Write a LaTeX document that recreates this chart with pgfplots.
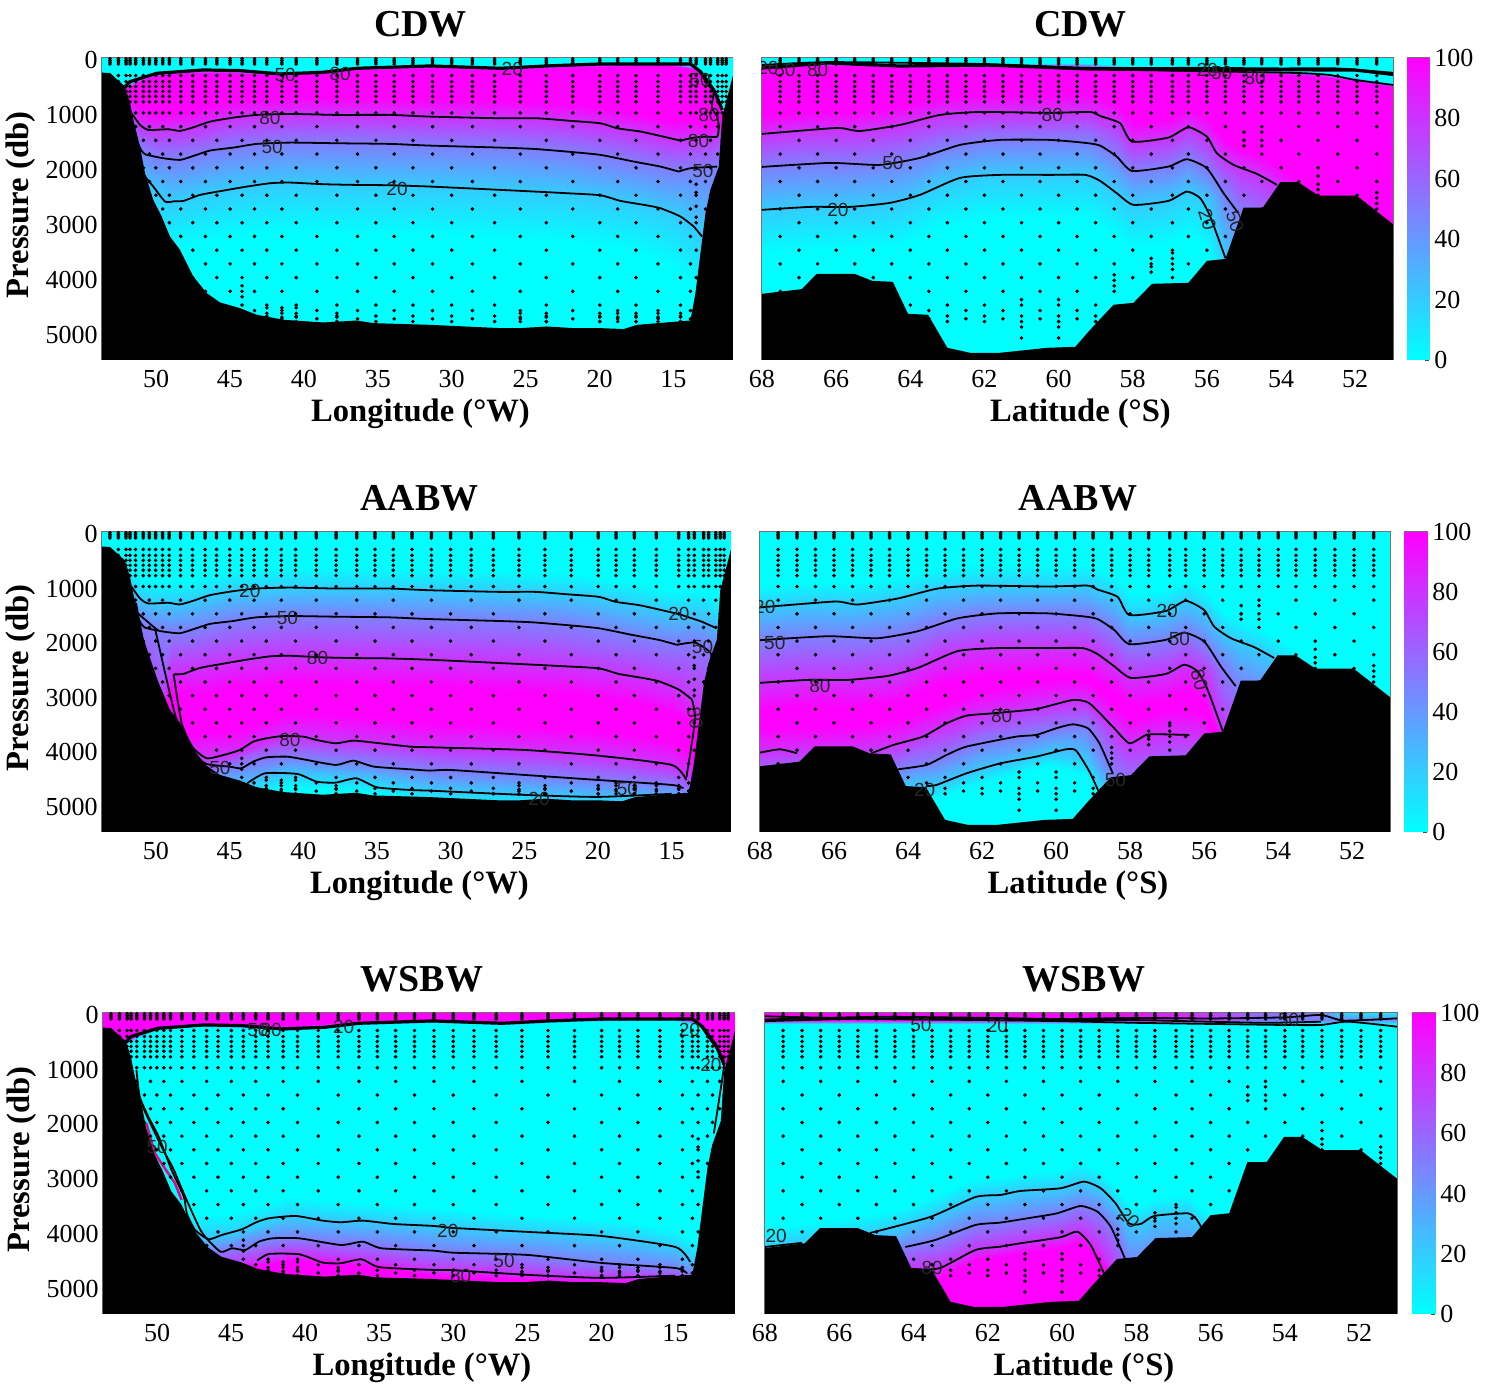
\documentclass[border=0pt]{standalone}
\usepackage{fontspec}
\usepackage{pgfplots}
\pgfplotsset{compat=1.18}
\setmainfont{Liberation Serif}
\newfontfamily\clabf{Liberation Sans}
\newcommand\pl[2]{\edef\tmp{\noexpand\addplot[#1] coordinates {#2};}\tmp}
\newcommand\col[2]{\foreach \y[count=\i] in {#2}{\xdef\mm{\mm(#1,\y)[\zz{\i}]}}}
% ---- meshes: per longitude/latitude, pressure of each level
\def\zz#1{\ifcase#1\or 0\or 0\or 100\or 100\or 80\or 50\or 20\or 0\or 0\fi}
\gdef\mm{}
\col{53.66}{0,560,640,700,1000,1400,2000,2900,5500}
\col{52.1}{0,480,560,620,950,1300,2000,2900,5500}
\col{51}{0,340,420,900,1230,1660,2250,3150,5500}
\col{50}{0,240,320,980,1310,1800,2450,3350,5500}
\col{49}{0,215,295,970,1300,1830,2610,3500,5500}
\col{47.5}{0,185,265,935,1265,1790,2495,3400,5500}
\col{45}{0,190,270,765,1095,1640,2370,3270,5500}
\col{41}{0,240,320,690,1020,1541,2270,3170,5500}
\col{36}{0,145,225,705,1037,1560,2315,3215,5500}
\col{31}{0,105,185,740,1070,1600,2345,3245,5500}
\col{26}{0,140,220,770,1100,1635,2410,3310,5500}
\col{22}{0,80,160,815,1145,1710,2470,3370,5500}
\col{18}{0,70,150,970,1300,1900,2630,3500,5500}
\col{15}{0,70,150,1140,1470,2040,2830,3800,5500}
\col{13.5}{0,140,220,1120,1450,2000,3100,4200,5500}
\col{12.5}{0,430,510,1200,1432,1980,3400,4400,5500}
\col{11.7}{0,900,1000,1150,1300,1970,3400,4400,5500}
\col{10.97}{0,900,1000,1150,1300,1970,3400,4400,5500}
\global\let\mA\mm
\gdef\mm{}
\col{68}{0,80,160,1030,1383,1984,2766,3560,5500}
\col{66.7}{0,70,150,960,1310,1930,2712,3510,5500}
\col{65.5}{0,60,140,970,1320,1950,2700,3500,5500}
\col{64.3}{0,90,170,870,1220,1850,2640,3440,5500}
\col{63.2}{0,100,180,690,1037,1640,2300,3100,5500}
\col{62}{0,90,170,630,983,1510,2150,2950,5500}
\col{60.2}{0,90,170,650,1000,1492,2129,2930,5500}
\col{59.2}{0,100,180,640,990,1500,2130,2930,5500}
\col{58.4}{0,130,210,840,1190,1800,2463,3260,5500}
\col{58}{0,150,230,1170,1523,2050,2675,3470,5500}
\col{57.04}{0,160,240,1100,1450,1978,2603,3400,5500}
\col{56.5}{0,170,250,910,1262,1844,2433,3230,5500}
\col{56}{0,170,250,1080,1432,2060,2600,3500,5500}
\col{55.5}{0,180,260,1480,1830,2463,3646,4300,5500}
\col{55.1}{0,190,270,1640,1990,2827,3900,4500,5500}
\col{54.6}{0,210,290,1770,2120,3000,4200,4800,5500}
\col{54.1}{0,220,300,1960,2311,3100,4300,4800,5500}
\col{53}{0,250,330,2450,2800,3400,4500,5000,5500}
\col{52}{0,340,420,2950,3300,3800,4700,5100,5500}
\col{50.98}{0,450,530,3150,3500,4000,4700,5100,5500}
\global\let\mB\mm
\def\zz#1{\ifcase#1\or 0\or 0\or 20\or 50\or 80\or 100\or 100\or 80\or 50\or 20\or 0\or 0\fi}
\gdef\mm{}
\col{53.66}{0,600,1000,1400,2000,2400,4000,4300,4600,4800,5000,5500}
\col{52.1}{0,550,950,1300,2000,2400,4000,4300,4600,4800,5000,5500}
\col{51}{0,830,1230,1660,2800,3200,3700,4100,4500,4800,5000,5500}
\col{50}{0,900,1300,1770,3400,3700,3900,4200,4500,4800,5000,5500}
\col{49}{0,900,1300,1830,2550,2950,3650,4100,4500,4800,5000,5500}
\col{47.5}{0,860,1265,1790,2495,3000,3700,4100,4500,4800,5000,5500}
\col{45}{0,700,1095,1640,2370,2870,3640,4090,4300,4700,4950,5500}
\col{41}{0,620,1020,1541,2270,2770,3300,3745,4120,4440,4690,5500}
\col{36}{0,640,1037,1560,2315,2815,3380,3830,4210,4530,4780,5500}
\col{31}{0,670,1070,1600,2345,2845,3500,3950,4380,4745,5000,5500}
\col{26}{0,700,1100,1635,2410,2910,3540,3990,4440,4800,5050,5500}
\col{22}{0,745,1145,1710,2470,2970,3610,4060,4510,4850,5100,5500}
\col{18}{0,900,1300,1900,2630,3130,3690,4140,4580,4900,5150,5500}
\col{15}{0,1070,1470,2040,2830,3330,3840,4290,4640,4900,5150,5500}
\col{13.5}{0,1050,1450,2000,3100,3500,4050,4500,4800,5000,5200,5500}
\col{12.5}{0,1100,1500,2050,3400,3700,4100,4500,4800,5000,5200,5500}
\col{11.7}{0,1300,1700,2200,3400,3700,4100,4500,4800,5000,5200,5500}
\col{10.97}{0,1300,1700,2200,3400,3700,4100,4500,4800,5000,5200,5500}
\global\let\mC\mm
\gdef\mm{}
\col{68}{0,980,1383,1984,2766,3270,3600,4045,4500,4800,5000,5500}
\col{66.7}{0,910,1310,1930,2712,3210,3550,4000,4500,4800,5000,5500}
\col{65.5}{0,920,1320,1950,2700,3200,3550,4000,4500,4800,5000,5500}
\col{64.3}{0,820,1220,1850,2640,3140,3440,3890,4340,4700,4950,5500}
\col{63.2}{0,640,1037,1640,2300,2800,3170,3620,4180,4640,4890,5500}
\col{62}{0,580,983,1510,2150,2650,2900,3350,3870,4370,4620,5500}
\col{60.2}{0,600,1000,1492,2129,2630,2710,3160,3650,4050,4300,5500}
\col{59.2}{0,590,990,1500,2130,2620,2680,3120,3550,4200,4500,5500}
\col{58.4}{0,790,1190,1800,2463,2960,3170,3620,4500,5000,5200,5500}
\col{58}{0,1120,1523,2050,2675,3170,3420,3870,4700,5100,5300,5500}
\col{57.04}{0,1050,1450,1978,2603,3100,3270,3720,4500,5000,5200,5500}
\col{56.5}{0,860,1262,1844,2433,2930,3270,3720,4500,5000,5200,5500}
\col{56}{0,1030,1432,2060,2600,3100,3300,3750,4500,5000,5200,5500}
\col{55.5}{0,1430,1830,2463,3646,4000,4200,4500,4800,5000,5200,5500}
\col{55.1}{0,1590,1990,2827,3900,4200,4300,4500,4800,5000,5200,5500}
\col{54.6}{0,1720,2120,3000,4200,4300,4400,4500,4800,5000,5200,5500}
\col{54.1}{0,1910,2311,3100,4300,4350,4400,4500,4800,5000,5200,5500}
\col{53}{0,2400,2800,3400,4300,4350,4400,4500,4800,5000,5200,5500}
\col{52}{0,3000,3300,3800,4300,4350,4400,4500,4800,5000,5200,5500}
\col{50.98}{0,3200,3500,4000,4300,4350,4400,4500,4800,5000,5200,5500}
\global\let\mD\mm
\def\zz#1{\ifcase#1\or 100\or 100\or 0\or 0\or 20\or 50\or 80\or 100\or 100\fi}
\gdef\mm{}
\col{53.66}{0,560,640,3000,4100,4400,4700,4820,5500}
\col{52.1}{0,480,560,3000,4100,4400,4700,4820,5500}
\col{51}{0,340,420,3300,4100,4400,4700,4820,5500}
\col{50}{0,240,320,3500,4100,4400,4700,4820,5500}
\col{49}{0,215,295,3600,4100,4400,4700,4820,5500}
\col{47.5}{0,185,265,3700,4100,4400,4700,4820,5500}
\col{45}{0,190,270,3650,4030,4300,4600,4720,5500}
\col{41}{0,240,320,3350,3720,4115,4410,4530,5500}
\col{36}{0,145,225,3450,3795,4180,4505,4625,5500}
\col{31}{0,105,185,3550,3895,4345,4700,4820,5500}
\col{26}{0,140,220,3650,3985,4400,4760,4880,5500}
\col{22}{0,80,160,3720,4045,4530,4820,4940,5500}
\col{18}{0,70,150,3800,4130,4600,4840,4960,5500}
\col{15}{0,70,150,3950,4275,4660,4870,4990,5500}
\col{13.5}{0,140,220,4200,4550,4800,5000,5100,5500}
\col{12.5}{0,430,510,4200,4550,4800,5000,5100,5500}
\col{11.7}{0,900,1000,4200,4550,4800,5000,5100,5500}
\col{10.97}{0,900,1000,4200,4550,4800,5000,5100,5500}
\global\let\mE\mm
\def\zz#1{\ifcase#1\or 0\or 0\or 20\or 50\or 80\or 100\or 100\fi}
\gdef\mm{}
\col{68}{0,3925,4275,4600,5000,5200,5500}
\col{66}{0,3750,4100,4500,5000,5200,5500}
\col{65.17}{0,3670,4020,4500,4900,5100,5500}
\col{64.2}{0,3530,3880,4275,4700,4900,5500}
\col{63.4}{0,3330,3680,4147,4660,4860,5500}
\col{62.33}{0,3010,3362,3873,4330,4530,5500}
\col{61.66}{0,2975,3325,3830,4269,4470,5500}
\col{61.1}{0,2900,3252,3760,4208,4410,5500}
\col{60.04}{0,2850,3203,3650,4098,4300,5500}
\col{59.5}{0,2730,3081,3526,4000,4200,5500}
\col{59}{0,2850,3203,3630,4300,4500,5500}
\col{58.6}{0,3130,3477,3904,4750,4950,5500}
\col{58.2}{0,3490,3843,4600,5000,5200,5500}
\col{57.88}{0,3500,3855,4600,5000,5200,5500}
\col{57.5}{0,3360,3709,4500,5000,5200,5500}
\col{56.6}{0,3310,3660,4500,5000,5200,5500}
\col{56.26}{0,3550,3904,4500,5000,5200,5500}
\col{55.5}{0,3900,4300,4700,5100,5200,5500}
\col{50.98}{0,3900,4300,4700,5100,5200,5500}
\global\let\mF\mm
% ---- sampling stations
\newcommand\addd[4]{\foreach \x in {#2}{\foreach \d in {#3}{\xdef#1{#1(\x,\d)}}}}
\gdef\dL{}\gdef\dR{}
\addd\dL{53.12,52.03,51.38,50.45,49.55,48.33,46.66,44.99,43.34,41.49,39.12,36.37,33.89,31.3,28.6,25.36,21.81,18.77,16.04,13.85,12.83,12,11.43}{15,45,75,110,320,430,520,610,700,800,1000,1250,1750,2250,2750,3250,3750,4250,4600,4750}{}
\addd\dL{52.55,51.76,50.86,50.02,49.1,47.52,45.89,44.18,42.51,40.52,37.77,35.13,32.62,30,27.1,23.6,19.98,17.53,14.52,13.46,12.49,11.7}{15,45,75,110,320,430,520,610,700,800,1000,1500,2000,2500,3000,3500,4000,4500,4700,4800}{}
\addd\dL{44.18}{4150,4250,4350}{}
\addd\dL{42.51,41.49,40.52}{4550,4650,4720}{}
\addd\dL{37.77,23.6,25.36,19.98,18.77,17.53,16.04,14.52}{4650,4720,4800}{}
\addd\dL{13.46}{2300,2450,2700,2900}{}
\addd\dR{67.51,66.5,65.5,64.5,63.5,62.5,61.5,60.5,59.5,58.5,57.5,56.5,55.5,54.52,53.52,52.47,51.42}{15,45,75,110,320,430,520,610,700,800,1000,1250,1750,2250,2750,3250,3750,4250,4600,4750}{}
\addd\dR{67,66,65,64,63,62,61,60,59,58,56.93,56,55,54,53,51.95}{15,45,75,110,320,430,520,610,700,800,1000,1500,2000,2500,3000,3500,4000,4500,4700,4800}{}
\addd\dR{58.5}{3950,4050,4150}{}
\addd\dR{56.93}{3550,3650,3750,3850}{}
\addd\dR{57.5}{3650,3800,3900}{}
\addd\dR{55,54.52}{1350,1500,1600}{}
\addd\dR{53}{2150,2300,2400}{}
\addd\dR{51.42}{2450,2550,2650}{}
\addd\dR{66.5,65,61,60}{4400,4900,5100}{}
% ---- bottom topography
\def\TL{(53.66,5500)(53.66,267)(53.12,273)(52.1,522)(51.76,825)(51.54,1128)(51.09,1614)(50.75,2099)(50.19,2585)(49.62,2888)(49.06,3252)(48.38,3494)(47.48,3980)(46.57,4283)(45.67,4453)(44.32,4556)(43.19,4677)(41.38,4768)(38.68,4817)(36.42,4781)(35.29,4829)(31.46,4860)(26.71,4920)(25.36,4920)(23.55,4890)(21.74,4920)(19.94,4920)(18.36,4937)(17.46,4860)(16.1,4830)(13.85,4781)(13.51,4283)(13.17,3555)(12.83,2827)(12.5,2402)(11.93,1978)(11.7,1068)(10.98,328)(10.97,5500)}
\def\TR{(68,5500)(68,4295)(66.93,4210)(66.52,3931)(65.5,3931)(65.03,4059)(64.47,4077)(64.06,4660)(63.52,4677)(63,5278)(62.39,5369)(61.58,5369)(60.3,5278)(59.55,5260)(59.15,4950)(58.52,4495)(57.98,4459)(57.48,4113)(56.5,4095)(56,3695)(55.5,3660)(55.01,2724)(54.49,2724)(54.02,2263)(53.53,2263)(52.99,2506)(51.96,2506)(50.98,3027)(50.98,5500)}
% ---- isolines shared between panels
\def\lA{(51.65,1007)(51.08,1219)(50.52,1310)(49.17,1298)(48.38,1328)(47.47,1262)(46.35,1159)(44.77,1086)(43.19,1037)(40.93,1019)(37.77,1037)(34.16,1037)(31.45,1068)(26.71,1098)(24.23,1098)(22.2,1140)(19.94,1189)(18.81,1280)(17.23,1340)(15.88,1420)(14.52,1505)}
\def\lB{(51.42,1432)(51.08,1644)(50.75,1753)(49.5,1826)(48.38,1856)(47.47,1784)(46.35,1686)(44.77,1632)(43.19,1565)(40.93,1541)(37.77,1553)(34.16,1565)(31.45,1596)(26.71,1632)(24.45,1656)(22.2,1705)(19.94,1765)(17.68,1887)(15.88,1978)(14.64,2069)}
\def\lC{(48.8,2610)(48.15,2603)(47.02,2493)(45.44,2415)(43.86,2342)(42.28,2281)(40.93,2269)(38.67,2299)(36.42,2312)(34.16,2318)(31.45,2342)(26.71,2402)(24.45,2432)(22.2,2463)(19.94,2500)(18.58,2603)(17,2675)(15.88,2736)(14.52,2888)(13.62,3070)}
\def\sL{(52.1,522)(51.76,430)(49.96,279)(48.38,249)(46.8,218)(44.31,230)(41.6,291)(38.67,261)(36.42,188)(31.45,145)(26.71,188)(23.55,145)(19.94,109)(13.85,109)(13.17,249)(12.27,582)(11.7,946)}
\def\rA{(68,1383)(66.7,1310)(65.9,1274)(65.36,1330)(64.28,1220)(63.2,1037)(62.12,983)(60.23,1000)(59.15,983)(58.88,1056)(58.34,1189)(58.02,1523)(57.04,1450)(56.5,1262)(56,1432)(55.73,1735)(55.28,1947)(54.65,2111)(54.11,2311)}
\def\rB{(68,1984)(66.17,1911)(64.82,1947)(63.74,1820)(62.66,1583)(61.58,1492)(60.23,1492)(59.28,1546)(58.88,1596)(58.43,1796)(58.02,2057)(57.04,1978)(56.54,1844)(56,2008)(55.55,2463)(55.15,2827)}
\def\rC{(68,2766)(66.7,2712)(65.63,2712)(64.55,2639)(63.74,2493)(62.66,2184)(61.58,2129)(60.23,2129)(59.28,2129)(58.88,2239)(58.43,2463)(57.98,2675)(57.04,2603)(56.54,2433)(56.18,2554)(55.91,2888)(55.5,3646)}
\pgfplotsset{
 colormap={cmap}{rgb255=(0,255,255) rgb255=(255,0,255)},
 base/.style={scale only axis,anchor=north west,
  y dir=reverse,x dir=reverse,ymin=0,ymax=5500,
  axis line style={black!55,line width=0.5pt},major tick length=0pt,
  ticklabel style={font=\fontsize{13}{13}\selectfont,inner sep=0pt},
  /pgf/number format/assume math mode=true,/pgf/number format/1000 sep={},
  xticklabel style={yshift=-5pt},yticklabel style={xshift=-2pt,yshift=-1pt},
  title style={font=\fontsize{19}{19}\selectfont\bfseries,at={(0.5,1)},anchor=center,yshift=11pt,xshift=1.5pt},
  xlabel style={font=\fontsize{16.3}{16.3}\selectfont\bfseries,at={(0.5,0)},anchor=center,yshift=-27pt,xshift=1.5pt},
  ylabel style={font=\fontsize{16.3}{16.3}\selectfont\bfseries,at={(0,0.5)},anchor=center,xshift=2pt,yshift=40.5pt},
  clip=true},
 lon/.style={base,xmin=10.97,xmax=53.66,xtick={15,20,...,50},xlabel={Longitude (°W)},
  ylabel={Pressure (db)},ytick={0,1000,...,5000}},
 lat/.style={base,xmin=50.98,xmax=68,xtick={52,54,...,68},xlabel={Latitude (°S)},ytick=\empty},
 msh/.style={surf,shader=interp,point meta=explicit,mesh/cols=#1,forget plot},
 cl/.style={black,line width=0.9pt,no markers,forget plot,smooth,tension=0.35},
 cs/.style={black,line width=1.6pt,no markers,forget plot},
 ds/.style={only marks,mark=*,mark size=0.7pt,mark options={draw=none,fill=black},forget plot},
 tp/.style={fill=black,draw=none,forget plot},
 cbar/.style={scale only axis,anchor=north west,xmin=0,xmax=1,ymin=0,ymax=100,xtick=\empty,ytick={0,20,...,100},
  yticklabel pos=right,ytick pos=right,tick align=inside,major tick length=2pt,
  axis line style={black!55,line width=0.5pt},tick style={black!70},
  ticklabel style={font=\fontsize{13}{13}\selectfont,inner sep=0pt},
  /pgf/number format/assume math mode=true,yticklabel style={xshift=2.5pt}}}
\tikzset{clab/.style={font=\clabf\fontsize{9.5}{9.5}\selectfont,text=black!85,inner sep=0pt}}
\newcommand\lb[4][]{\node[clab,#1] at (axis cs:#2,#3) {#4};}
\newcommand\cb[1]{\addplot[surf,shader=interp,point meta=explicit,mesh/cols=2,forget plot] coordinates {(0,0)[0](1,0)[0](0,100)[100](1,100)[100]};}
\begin{document}
\begin{tikzpicture}[x=1pt,y=1pt]
\useasboundingbox (0,0) rectangle (745,692.5);
% ---------- row 1
\begin{axis}[lon,at={(51pt,663.5pt)},width=315.5pt,height=151pt,title={CDW}]
\pl{msh=9}{\mA}\pl{ds}{\dL}
\pl{cl}{\lA}\pl{cl}{\lB}\pl{cl}{\lC}\pl{cs}{\sL}
\addplot[cl] coordinates {(14.52,1505)(13.6,1450)(12.72,1432)(12.04,1432)(11.93,1250)(12.04,1068)(12.4,900)(12.3,600)(13,300)(13.8,110)};
\addplot[cl] coordinates {(13.4,188)(12.72,461)(12.04,704)(11.7,916)};
\addplot[cl] coordinates {(14.64,2069)(13.85,2008)(12.04,1978)};
\addplot[cl] coordinates {(50.75,2160)(50.19,2342)(49.39,2615)(48.8,2610)};
\addplot[cl] coordinates {(13.62,3070)(13.06,3252)};
\pl{tp}{\TL}
\lb{41.27}{309}{50}\lb{37.55}{291}{80}\lb{25.9}{200}{20}\lb{42.3}{1092}{80}\lb{42.15}{1620}{50}\lb{33.7}{2384}{20}\lb{13.3}{1510}{80}\lb{13}{2057}{50}\lb{13.2}{400}{50}\lb{12.6}{1037}{80}
\end{axis}
\begin{axis}[lat,at={(381pt,663.5pt)},width=315.5pt,height=151pt,title={CDW}]
\pl{msh=9}{\mB}\pl{ds}{\dR}
\pl{cl}{\rA}\pl{cl}{\rB}\pl{cl}{\rC}
\addplot[cs] coordinates {(68,182)(66.2,91)(64.3,146)(61.9,130)(59.2,200)(56.2,218)(54,215)(52,220)(50.98,300)};
\addplot[cl] coordinates {(68,130)(66.2,75)(62,110)(59.2,180)(56.2,180)(54,190)(52.5,190)(50.98,270)};
\addplot[cl] coordinates {(60,190)(56.2,240)(53.6,273)(52.7,309)(52,400)(50.98,491)};
\pl{tp}{\TR}
\lb{67.84}{182}{20}\lb{67.38}{218}{50}\lb{66.5}{218}{80}\lb{64.47}{1911}{50}\lb{60.17}{1037}{80}\lb{65.95}{2766}{20}\lb{55.99}{218}{20}\lb{55.6}{273}{50}\lb{54.7}{364}{80}\lb[rotate=-72]{55.99}{2948}{20}\lb[rotate=-72]{55.24}{2985}{50}
\end{axis}
\begin{axis}[cbar,at={(703.5pt,663.5pt)},width=11pt,height=151pt]\cb{}\end{axis}
% ---------- row 2
\begin{axis}[lon,at={(51pt,426.5pt)},width=314.5pt,height=150pt,title={AABW}]
\pl{msh=12}{\mC}\pl{ds}{\dL}
\pl{cl}{\lA}\pl{cl}{\lB}\pl{cl}{\lC}
\addplot[cl] coordinates {(14.52,1505)(13,1640)(12,1760)};
\addplot[cl] coordinates {(14.64,2069)(13.4,2030)(12.3,2250)(12.8,2800)};
\addplot[cl] coordinates {(13.62,3070)(13.4,3400)(13.7,4000)(14,4500)};
\addplot[cl] coordinates {(51.35,1300)(50.9,1950)(49.9,2750)(49,3400)};
\addplot[cl] coordinates {(51.4,1450)(50.07,1760)(49.8,1810)};
\addplot[cl] coordinates {(50.07,1760)(48.7,3350)(47.7,4000)(46.6,4250)(45,4302)(44.2,4332)(43.4,4210)(42.5,4131)(41.1,4119)(40,4167)(37.8,4271)(36.6,4192)(35.2,4302)(32.75,4351)(31.4,4375)(30,4363)(25,4454)(20,4546)(15,4637)(14.2,4700)};
\addplot[cl] coordinates {(48.8,2610)(48.25,3507)(47.5,3950)(46.55,4149)(45.4,4088)(44.3,3996)(43.4,3844)(42.5,3782)(41.35,3740)(40,3752)(39.1,3813)(37.8,3874)(36.6,3825)(35.2,3862)(32.75,3935)(31.4,3947)(25,3996)(20,4100)(15,4270)(14,4546)};
\addplot[cl] coordinates {(43.8,4607)(42.6,4424)(40.4,4436)(39.1,4577)(37.8,4595)(36.4,4516)(35,4681)(32.75,4730)(31.4,4742)(30,4760)(25,4820)(20,4857)(15,4800)};
\pl{tp}{\TL}
\lb{43.63}{1081}{20}\lb{41.07}{1576}{50}\lb{39.03}{2310}{80}\lb{40.9}{3813}{80}\lb{45.66}{4326}{50}\lb{18}{4711}{50}\lb{24}{4900}{20}\lb{14.5}{1503}{20}\lb{12.9}{2108}{50}\lb[rotate=-80]{13.4}{3410}{80}
\end{axis}
\begin{axis}[lat,at={(380pt,426.5pt)},width=315pt,height=150pt,title={AABW}]
\pl{msh=12}{\mD}\pl{ds}{\dR}
\pl{cl}{\rA}\pl{cl}{\rB}\pl{cl}{\rC}
\addplot[cl] coordinates {(68,4045)(67.46,3984)(67,4057)};
\addplot[cl] coordinates {(64.99,4057)(64.4,3905)(63.6,3752)(62.96,3508)(62.42,3367)(61.7,3324)(60.54,3245)(59.55,3080)(59.1,3141)(58.47,3569)(58.02,3874)(57.57,3721)(57.2,3709)(56.4,3721)};
\addplot[cl] coordinates {(64.27,4351)(63.5,4271)(62.96,4088)(62.42,3935)(61.08,3752)(60.54,3721)(60,3599)(59.55,3526)(59.14,3599)(58.83,3874)(58.47,4424)};
\addplot[cl] coordinates {(63.5,4656)(63.23,4638)(62.42,4424)(61.5,4241)(60.54,4119)(59.73,3984)(59.46,4008)(59.1,4393)(58.83,4791)};
\pl{tp}{\TR}
\lb{67.87}{1375}{20}\lb{67.6}{2035}{50}\lb{66.38}{2823}{80}\lb{61.47}{3373}{80}\lb{57}{1448}{20}\lb{56.67}{1961}{50}\lb[rotate=-75]{56.13}{2713}{80}\lb{63.55}{4730}{20}\lb{58.4}{4546}{50}
\end{axis}
\begin{axis}[cbar,at={(702pt,426.5pt)},width=11.5pt,height=150pt]\cb{}\end{axis}
% ---------- row 3
\begin{axis}[lon,at={(51.5pt,186pt)},width=316pt,height=150.5pt,title={WSBW}]
\pl{msh=9}{\mE}\pl{ds}{\dL}
\addplot[magenta,line width=1.2pt,no markers,forget plot] coordinates {(50.73,2016)(50.16,2564)(48.8,3112)(48.35,3416)};
\pl{cs}{\sL}
\addplot[cl] coordinates {(51.4,1041)(51.18,1528)(50.6,1894)(49.9,2259)(49.03,2868)(48.2,3355)(48,3660)(47.44,3964)(46.53,4135)(45.63,4056)(44.27,3952)(43.36,3830)(42.45,3751)(40.64,3709)(38.82,3794)(37.6,3824)(36.1,3794)(34.06,3855)(31.34,3891)(30,3928)(25,4000)(20,4074)(15,4275)(14,4550)};
\addplot[cl] coordinates {(51,1700)(50.4,2050)(49.6,2500)(48.9,2850)(48.2,3300)(47,4000)(45.74,4360)(44.95,4299)(44.04,4330)(43.13,4178)(42.2,4117)(40.4,4117)(37.6,4239)(36.1,4178)(34.86,4299)(31.34,4342)(30,4380)(25,4421)(20,4567)(15,4660)(14.2,4760)};
\addplot[cl] coordinates {(43.25,4525)(42.45,4403)(40.4,4409)(38.82,4561)(37.6,4573)(36.2,4500)(34.97,4646)(31.34,4695)(30,4700)(25,4785)(20,4840)(15,4800)};
\addplot[cl] coordinates {(13.4,188)(12.72,461)(12.04,704)(11.7,916)(12,1500)(12.4,2200)};
\pl{tp}{\TL}
\lb{43.2}{311}{50}\lb{42.3}{311}{80}\lb{37.4}{256}{20}\lb{30.37}{3983}{20}\lb{26.57}{4531}{50}\lb{29.5}{4805}{80}\lb{14.05}{311}{20}\lb{12.6}{950}{20}\lb{50}{2450}{50}
\end{axis}
\begin{axis}[lat,at={(382.5pt,186pt)},width=316pt,height=150.5pt,title={WSBW}]
\pl{msh=7}{\mF}
\addplot[msh=3] coordinates {(68,0)[100](68,120)[100](68,200)[0](58,0)[95](58,120)[95](58,200)[0](56,0)[75](56,120)[75](56,200)[0](54.5,0)[55](54.5,120)[55](54.5,200)[0](53,0)[50](53,120)[50](53,200)[0](52.4,0)[15](52.4,120)[45](52.4,200)[0](50.98,0)[10](50.98,120)[45](50.98,200)[0]};
\pl{ds}{\dR}
\addplot[cl] coordinates {(68,120)(65,70)(62,90)(60,110)(58,90)(56,100)(54,80)(53.03,36)(52.4,140)(50.98,98)};
\addplot[cl] coordinates {(68,60)(65,110)(62,130)(60,150)(58,180)(56,200)(54,219)(53.03,219)(52.3,158)(50.98,250)};
\addplot[cl] coordinates {(68,150)(65,100)(60,130)(58,130)(56,160)(54.5,180)(53.03,160)};
\addplot[cl] coordinates {(68,4275)(67,4200)};
\addplot[cl] coordinates {(65.17,4020)(63.55,3727)(62.33,3362)(61.66,3325)(61.12,3252)(60.04,3203)(59.41,3081)(58.96,3203)(58.56,3477)(58.2,3843)(57.88,3855)(57.52,3709)(56.62,3660)(56.4,3751)(56.26,3904)};
\addplot[cl] coordinates {(64.22,4275)(63.41,4147)(62.33,3873)(61.66,3830)(60.76,3733)(60.13,3660)(59.5,3526)(59.05,3629)(58.69,3904)(58.31,4482)};
\addplot[cl] coordinates {(63.95,4695)(63.28,4659)(62.33,4330)(61.66,4269)(61.12,4208)(60.04,4098)(59.59,3995)(59.23,4239)(58.83,4817)};
\pl{tp}{\TR}
\lb{67.7}{4074}{20}\lb{63.8}{219}{50}\lb{61.74}{237}{20}\lb[rotate=-45]{58.2}{3745}{20}\lb{63.5}{4659}{80}\lb{53.9}{128}{50}
\end{axis}
\begin{axis}[cbar,at={(706pt,186pt)},width=11.5pt,height=150.5pt]\cb{}\end{axis}
\end{tikzpicture}
\end{document}
